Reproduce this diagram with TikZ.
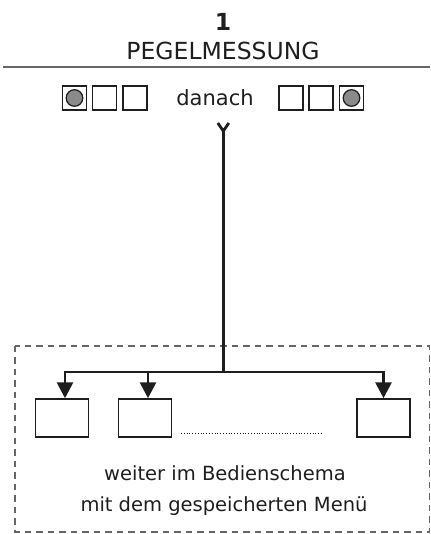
\documentclass[tikz,border=0pt]{standalone}
\usepackage{fontspec}
\setmainfont{DejaVu Sans}
\usetikzlibrary{arrows.meta,calc}
\definecolor{ink}{HTML}{1E1E1E}
\definecolor{rule}{HTML}{666666}
\definecolor{led}{HTML}{8A8A8A}
\tikzset{
  lbl/.style={text=ink, inner sep=0pt, anchor=base},
  ledbox/.style={draw=ink, line width=1.5pt, minimum width=24pt, minimum height=24pt, inner sep=0pt},
  menubox/.style={draw=ink, line width=1.5pt, minimum width=53pt, minimum height=38pt, inner sep=0pt},
  flow/.style={draw=ink, line width=2.8pt},
  flowtip/.style={flow, -{Triangle[width=16pt,length=16pt]}},
}
\begin{document}
\begin{tikzpicture}[x=1pt,y=-1pt]
\useasboundingbox (0,0) rectangle (430,534);

% heading
\node[lbl, font=\bfseries\fontsize{23.5}{26}\selectfont] (num) at (223,30.5) {1};
\node[lbl, font=\fontsize{23.5}{26}\selectfont] (title) at (223,60) {PEGELMESSUNG};
\draw[rule, line width=2.2pt] (3,66.7) -- (430,66.7);

% indicator rows
\node[ledbox] (l1) at (74.5,98) {};
\node[ledbox] (l2) at (104.5,98) {};
\node[ledbox] (l3) at (135,98) {};
\fill[led, draw=ink, line width=1.2pt] (l1.center) circle (8.3);
\node[lbl, font=\fontsize{21}{24}\selectfont] (then) at (215,106) {danach};
\node[ledbox] (r1) at (291,98) {};
\node[ledbox] (r2) at (321,98) {};
\node[ledbox] (r3) at (351.5,98) {};
\fill[led, draw=ink, line width=1.2pt] (r3.center) circle (8.3);

% dashed frame around the menu group
\draw[rule, line width=1.6pt, dash pattern=on 6.5pt off 5pt] (15,345.7) rectangle (429.3,531.7);

% menu boxes
\node[menubox] (m1) at (62,418) {};
\node[menubox] (m2) at (145,418) {};
\node[menubox] (m3) at (383.5,418) {};
\draw[ink, line width=0.8pt, dotted] (181,433) -- (322,433);

% flow line with forked tail
\coordinate (tail) at (223.3,131);
\coordinate (split) at (223.3,372);
\draw[flow, line cap=butt, line join=miter] ($(tail)+(-5.5,-8)$) -- (tail) -- ($(tail)+(5.5,-8)$);
\draw[flow] ($(tail)+(0,-1)$) -- (split);
\draw[flowtip] (split) -| ([xshift=3pt]m1.north);
\draw[flowtip] (split) -| ([xshift=3pt]m2.north);
\draw[flowtip] (split) -| (m3.north);

% caption
\node[lbl, font=\fontsize{19.5}{24}\selectfont] (cap1) at (225,480) {weiter im Bedienschema};
\node[lbl, font=\fontsize{19.5}{24}\selectfont] (cap2) at (224,511.5) {mit dem gespeicherten Menü};
\end{tikzpicture}
\end{document}
